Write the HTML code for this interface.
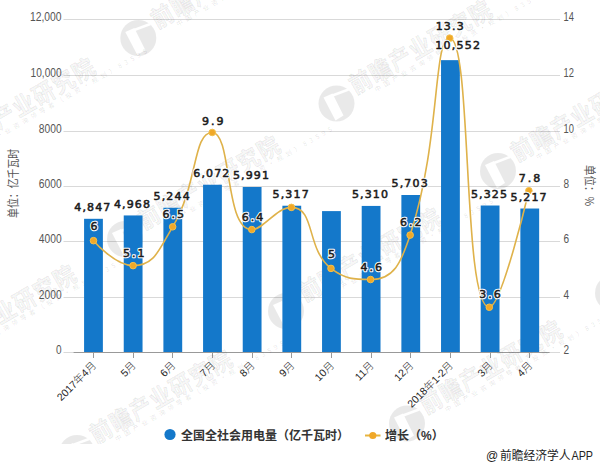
<!DOCTYPE html><html><head><meta charset="utf-8"><style>html,body{margin:0;padding:0;background:#fff;}body{width:600px;height:467px;overflow:hidden;position:relative;}svg{position:absolute;left:0;top:0;}</style></head><body>
<svg width="600" height="467" viewBox="0 0 600 467">
<defs><clipPath id="wc"><rect x="0" y="0" width="600" height="444"/></clipPath><mask id="lm" maskUnits="userSpaceOnUse" x="-20" y="-20" width="40" height="40"><rect x="-20" y="-20" width="40" height="40" fill="#fff"/><path d="M-13,-6 L-4,-10 L7,12 L-1,17 Z" fill="#000"/><path d="M-4,-8 L12,-14" fill="none" stroke="#000" stroke-width="2.5"/></mask></defs>
<line x1="63.5" y1="19.5" x2="560" y2="19.5" stroke="#d9d9d9" stroke-width="1"/>
<line x1="63.5" y1="75.5" x2="560" y2="75.5" stroke="#d9d9d9" stroke-width="1"/>
<line x1="63.5" y1="131.5" x2="560" y2="131.5" stroke="#d9d9d9" stroke-width="1"/>
<line x1="63.5" y1="186.5" x2="560" y2="186.5" stroke="#d9d9d9" stroke-width="1"/>
<line x1="63.5" y1="241.5" x2="560" y2="241.5" stroke="#d9d9d9" stroke-width="1"/>
<line x1="63.5" y1="297.5" x2="560" y2="297.5" stroke="#d9d9d9" stroke-width="1"/>
<line x1="63.5" y1="352.5" x2="560" y2="352.5" stroke="#d9d9d9" stroke-width="1"/>
<line x1="73.6" y1="352.5" x2="549.6" y2="352.5" stroke="#999" stroke-width="1"/>
<line x1="93.5" y1="352" x2="93.5" y2="358" stroke="#999" stroke-width="1"/>
<line x1="133.5" y1="352" x2="133.5" y2="358" stroke="#999" stroke-width="1"/>
<line x1="172.5" y1="352" x2="172.5" y2="358" stroke="#999" stroke-width="1"/>
<line x1="212.5" y1="352" x2="212.5" y2="358" stroke="#999" stroke-width="1"/>
<line x1="252.5" y1="352" x2="252.5" y2="358" stroke="#999" stroke-width="1"/>
<line x1="291.5" y1="352" x2="291.5" y2="358" stroke="#999" stroke-width="1"/>
<line x1="331.5" y1="352" x2="331.5" y2="358" stroke="#999" stroke-width="1"/>
<line x1="371.5" y1="352" x2="371.5" y2="358" stroke="#999" stroke-width="1"/>
<line x1="410.5" y1="352" x2="410.5" y2="358" stroke="#999" stroke-width="1"/>
<line x1="450.5" y1="352" x2="450.5" y2="358" stroke="#999" stroke-width="1"/>
<line x1="490.5" y1="352" x2="490.5" y2="358" stroke="#999" stroke-width="1"/>
<line x1="529.5" y1="352" x2="529.5" y2="358" stroke="#999" stroke-width="1"/>
<g clip-path="url(#wc)">
<g transform="translate(138.3,38)">
<circle r="18" fill="#000" fill-opacity="0.088" mask="url(#lm)"/>
<g transform="rotate(-30)">
<text transform="scale(0.9,1)" x="23" y="1.9" font-family="Noto Sans CJK SC, sans-serif" font-size="24" font-weight="700" letter-spacing="1.56" fill="#000" fill-opacity="0.035" stroke="#000" stroke-opacity="0.1" stroke-width="0.8">前瞻产业研究院</text>
<text x="40" y="10" font-family="Noto Sans CJK SC, sans-serif" font-size="6.5" letter-spacing="3.6" fill="#000" fill-opacity="0.12">中国产业咨询领导者（投资·规划）83595</text>
</g></g>
<g transform="translate(336.5,103.5)">
<circle r="18" fill="#000" fill-opacity="0.088" mask="url(#lm)"/>
<g transform="rotate(-30)">
<text transform="scale(0.9,1)" x="23" y="1.9" font-family="Noto Sans CJK SC, sans-serif" font-size="24" font-weight="700" letter-spacing="1.56" fill="#000" fill-opacity="0.035" stroke="#000" stroke-opacity="0.1" stroke-width="0.8">前瞻产业研究院</text>
<text x="40" y="10" font-family="Noto Sans CJK SC, sans-serif" font-size="6.5" letter-spacing="3.6" fill="#000" fill-opacity="0.12">中国产业咨询领导者（投资·规划）83595</text>
</g></g>
<g transform="translate(498,171)">
<circle r="18" fill="#000" fill-opacity="0.088" mask="url(#lm)"/>
<g transform="rotate(-30)">
<text transform="scale(0.9,1)" x="23" y="1.9" font-family="Noto Sans CJK SC, sans-serif" font-size="24" font-weight="700" letter-spacing="1.56" fill="#000" fill-opacity="0.035" stroke="#000" stroke-opacity="0.1" stroke-width="0.8">前瞻产业研究院</text>
<text x="40" y="10" font-family="Noto Sans CJK SC, sans-serif" font-size="6.5" letter-spacing="3.6" fill="#000" fill-opacity="0.12">中国产业咨询领导者（投资·规划）83595</text>
</g></g>
<g transform="translate(125,239)">
<circle r="18" fill="#000" fill-opacity="0.088" mask="url(#lm)"/>
<g transform="rotate(-30)">
<text transform="scale(0.9,1)" x="23" y="1.9" font-family="Noto Sans CJK SC, sans-serif" font-size="24" font-weight="700" letter-spacing="1.56" fill="#000" fill-opacity="0.035" stroke="#000" stroke-opacity="0.1" stroke-width="0.8">前瞻产业研究院</text>
<text x="40" y="10" font-family="Noto Sans CJK SC, sans-serif" font-size="6.5" letter-spacing="3.6" fill="#000" fill-opacity="0.12">中国产业咨询领导者（投资·规划）83595</text>
</g></g>
<g transform="translate(286,311)">
<circle r="18" fill="#000" fill-opacity="0.088" mask="url(#lm)"/>
<g transform="rotate(-30)">
<text transform="scale(0.9,1)" x="23" y="1.9" font-family="Noto Sans CJK SC, sans-serif" font-size="24" font-weight="700" letter-spacing="1.56" fill="#000" fill-opacity="0.035" stroke="#000" stroke-opacity="0.1" stroke-width="0.8">前瞻产业研究院</text>
<text x="40" y="10" font-family="Noto Sans CJK SC, sans-serif" font-size="6.5" letter-spacing="3.6" fill="#000" fill-opacity="0.12">中国产业咨询领导者（投资·规划）83595</text>
</g></g>
<g transform="translate(77,453)">
<circle r="18" fill="#000" fill-opacity="0.088" mask="url(#lm)"/>
<g transform="rotate(-30)">
<text transform="scale(0.9,1)" x="23" y="1.9" font-family="Noto Sans CJK SC, sans-serif" font-size="24" font-weight="700" letter-spacing="1.56" fill="#000" fill-opacity="0.035" stroke="#000" stroke-opacity="0.1" stroke-width="0.8">前瞻产业研究院</text>
<text x="40" y="10" font-family="Noto Sans CJK SC, sans-serif" font-size="6.5" letter-spacing="3.6" fill="#000" fill-opacity="0.12">中国产业咨询领导者（投资·规划）83595</text>
</g></g>
<g transform="translate(407,423.5)">
<circle r="18" fill="#000" fill-opacity="0.088" mask="url(#lm)"/>
<g transform="rotate(-30)">
<text transform="scale(0.9,1)" x="23" y="1.9" font-family="Noto Sans CJK SC, sans-serif" font-size="24" font-weight="700" letter-spacing="1.56" fill="#000" fill-opacity="0.035" stroke="#000" stroke-opacity="0.1" stroke-width="0.8">前瞻产业研究院</text>
<text x="40" y="10" font-family="Noto Sans CJK SC, sans-serif" font-size="6.5" letter-spacing="3.6" fill="#000" fill-opacity="0.12">中国产业咨询领导者（投资·规划）83595</text>
</g></g>
<g transform="translate(-60,161)">
<circle r="18" fill="#000" fill-opacity="0.088" mask="url(#lm)"/>
<g transform="rotate(-30)">
<text transform="scale(0.9,1)" x="23" y="1.9" font-family="Noto Sans CJK SC, sans-serif" font-size="24" font-weight="700" letter-spacing="1.56" fill="#000" fill-opacity="0.035" stroke="#000" stroke-opacity="0.1" stroke-width="0.8">前瞻产业研究院</text>
<text x="40" y="10" font-family="Noto Sans CJK SC, sans-serif" font-size="6.5" letter-spacing="3.6" fill="#000" fill-opacity="0.12">中国产业咨询领导者（投资·规划）83595</text>
</g></g>
<g transform="translate(-79,368)">
<circle r="18" fill="#000" fill-opacity="0.088" mask="url(#lm)"/>
<g transform="rotate(-30)">
<text transform="scale(0.9,1)" x="23" y="1.9" font-family="Noto Sans CJK SC, sans-serif" font-size="24" font-weight="700" letter-spacing="1.56" fill="#000" fill-opacity="0.035" stroke="#000" stroke-opacity="0.1" stroke-width="0.8">前瞻产业研究院</text>
<text x="40" y="10" font-family="Noto Sans CJK SC, sans-serif" font-size="6.5" letter-spacing="3.6" fill="#000" fill-opacity="0.12">中国产业咨询领导者（投资·规划）83595</text>
</g></g>
<g transform="translate(613,293)">
<circle r="18" fill="#000" fill-opacity="0.088" mask="url(#lm)"/>
<g transform="rotate(-30)">
<text transform="scale(0.9,1)" x="23" y="1.9" font-family="Noto Sans CJK SC, sans-serif" font-size="24" font-weight="700" letter-spacing="1.56" fill="#000" fill-opacity="0.035" stroke="#000" stroke-opacity="0.1" stroke-width="0.8">前瞻产业研究院</text>
<text x="40" y="10" font-family="Noto Sans CJK SC, sans-serif" font-size="6.5" letter-spacing="3.6" fill="#000" fill-opacity="0.12">中国产业咨询领导者（投资·规划）83595</text>
</g></g>
</g>
<text x="61.6" y="354.1" text-anchor="end" font-family="Liberation Sans, Noto Sans CJK SC, sans-serif" font-size="12" fill="#555" textLength="5.6" lengthAdjust="spacingAndGlyphs">0</text>
<text x="61.6" y="299.1" text-anchor="end" font-family="Liberation Sans, Noto Sans CJK SC, sans-serif" font-size="12" fill="#555" textLength="22.8" lengthAdjust="spacingAndGlyphs">2000</text>
<text x="61.6" y="243.1" text-anchor="end" font-family="Liberation Sans, Noto Sans CJK SC, sans-serif" font-size="12" fill="#555" textLength="22.8" lengthAdjust="spacingAndGlyphs">4000</text>
<text x="61.6" y="188.1" text-anchor="end" font-family="Liberation Sans, Noto Sans CJK SC, sans-serif" font-size="12" fill="#555" textLength="22.8" lengthAdjust="spacingAndGlyphs">6000</text>
<text x="61.6" y="133.1" text-anchor="end" font-family="Liberation Sans, Noto Sans CJK SC, sans-serif" font-size="12" fill="#555" textLength="22.8" lengthAdjust="spacingAndGlyphs">8000</text>
<text x="61.6" y="77.1" text-anchor="end" font-family="Liberation Sans, Noto Sans CJK SC, sans-serif" font-size="12" fill="#555" textLength="31" lengthAdjust="spacingAndGlyphs">10,000</text>
<text x="61.6" y="21.1" text-anchor="end" font-family="Liberation Sans, Noto Sans CJK SC, sans-serif" font-size="12" fill="#555" textLength="31.6" lengthAdjust="spacingAndGlyphs">12,000</text>
<text x="563.5" y="354.1" font-family="Liberation Sans, Noto Sans CJK SC, sans-serif" font-size="12" fill="#555" textLength="5.6" lengthAdjust="spacingAndGlyphs">2</text>
<text x="563.5" y="299.1" font-family="Liberation Sans, Noto Sans CJK SC, sans-serif" font-size="12" fill="#555" textLength="5.6" lengthAdjust="spacingAndGlyphs">4</text>
<text x="563.5" y="243.1" font-family="Liberation Sans, Noto Sans CJK SC, sans-serif" font-size="12" fill="#555" textLength="5.6" lengthAdjust="spacingAndGlyphs">6</text>
<text x="563.5" y="188.1" font-family="Liberation Sans, Noto Sans CJK SC, sans-serif" font-size="12" fill="#555" textLength="5.6" lengthAdjust="spacingAndGlyphs">8</text>
<text x="563.5" y="133.1" font-family="Liberation Sans, Noto Sans CJK SC, sans-serif" font-size="12" fill="#555" textLength="10.4" lengthAdjust="spacingAndGlyphs">10</text>
<text x="563.5" y="77.1" font-family="Liberation Sans, Noto Sans CJK SC, sans-serif" font-size="12" fill="#555" textLength="10.4" lengthAdjust="spacingAndGlyphs">12</text>
<text x="563.5" y="21.1" font-family="Liberation Sans, Noto Sans CJK SC, sans-serif" font-size="12" fill="#555" textLength="10.4" lengthAdjust="spacingAndGlyphs">14</text>
<rect x="84.08" y="218.80" width="18.8" height="133.20" fill="#1478ca"/>
<rect x="123.74" y="215.44" width="18.8" height="136.56" fill="#1478ca"/>
<rect x="163.40" y="207.76" width="18.8" height="144.24" fill="#1478ca"/>
<rect x="203.07" y="184.74" width="18.8" height="167.26" fill="#1478ca"/>
<rect x="242.73" y="186.99" width="18.8" height="165.01" fill="#1478ca"/>
<rect x="282.39" y="205.73" width="18.8" height="146.27" fill="#1478ca"/>
<rect x="322.05" y="211.10" width="18.8" height="140.90" fill="#1478ca"/>
<rect x="361.71" y="205.93" width="18.8" height="146.07" fill="#1478ca"/>
<rect x="401.38" y="195.00" width="18.8" height="157.00" fill="#1478ca"/>
<rect x="441.04" y="60.15" width="18.8" height="291.85" fill="#1478ca"/>
<rect x="480.70" y="205.51" width="18.8" height="146.49" fill="#1478ca"/>
<rect x="520.36" y="208.52" width="18.8" height="143.48" fill="#1478ca"/>
<path d="M93.50,240.67 C93.50,240.67 114.97,265.64 133.08,265.64 C154.55,265.64 158.75,250.20 172.66,226.80 C198.33,183.63 192.69,132.48 212.24,132.48 C232.27,132.48 224.20,229.57 251.82,229.57 C263.78,229.57 276.19,207.38 291.40,207.38 C315.77,207.38 305.69,248.78 330.98,268.41 C345.27,279.51 354.38,279.51 370.56,279.51 C393.96,279.51 401.10,262.68 410.14,235.12 C440.68,142.01 432.90,38.17 449.72,38.17 C472.48,38.17 462.05,307.25 489.30,307.25 C501.63,307.25 528.88,190.74 528.88,190.74" fill="none" stroke="#dfb24a" stroke-width="1.6"/>
<circle cx="93.50" cy="240.67" r="3.3" fill="#f0a828" stroke="#f3c04c" stroke-width="1"/>
<circle cx="133.08" cy="265.64" r="3.3" fill="#f0a828" stroke="#f3c04c" stroke-width="1"/>
<circle cx="172.66" cy="226.80" r="3.3" fill="#f0a828" stroke="#f3c04c" stroke-width="1"/>
<circle cx="212.24" cy="132.48" r="3.3" fill="#f0a828" stroke="#f3c04c" stroke-width="1"/>
<circle cx="251.82" cy="229.57" r="3.3" fill="#f0a828" stroke="#f3c04c" stroke-width="1"/>
<circle cx="291.40" cy="207.38" r="3.3" fill="#f0a828" stroke="#f3c04c" stroke-width="1"/>
<circle cx="330.98" cy="268.41" r="3.3" fill="#f0a828" stroke="#f3c04c" stroke-width="1"/>
<circle cx="370.56" cy="279.51" r="3.3" fill="#f0a828" stroke="#f3c04c" stroke-width="1"/>
<circle cx="410.14" cy="235.12" r="3.3" fill="#f0a828" stroke="#f3c04c" stroke-width="1"/>
<circle cx="449.72" cy="38.17" r="3.3" fill="#f0a828" stroke="#f3c04c" stroke-width="1"/>
<circle cx="489.30" cy="307.25" r="3.3" fill="#f0a828" stroke="#f3c04c" stroke-width="1"/>
<circle cx="528.88" cy="190.74" r="3.3" fill="#f0a828" stroke="#f3c04c" stroke-width="1"/>
<text x="92.88" y="211.20" text-anchor="middle" font-family="DejaVu Sans, sans-serif" font-size="11" letter-spacing="1.15" fill="none" stroke="#fff" stroke-width="2.6" stroke-linejoin="round">4,847</text>
<text x="92.88" y="211.20" text-anchor="middle" font-family="DejaVu Sans, sans-serif" font-size="11" letter-spacing="1.15" fill="#1c1c1c" stroke="#1c1c1c" stroke-width="0.55">4,847</text>
<text x="132.54" y="207.84" text-anchor="middle" font-family="DejaVu Sans, sans-serif" font-size="11" letter-spacing="1.15" fill="none" stroke="#fff" stroke-width="2.6" stroke-linejoin="round">4,968</text>
<text x="132.54" y="207.84" text-anchor="middle" font-family="DejaVu Sans, sans-serif" font-size="11" letter-spacing="1.15" fill="#1c1c1c" stroke="#1c1c1c" stroke-width="0.55">4,968</text>
<text x="172.20" y="200.16" text-anchor="middle" font-family="DejaVu Sans, sans-serif" font-size="11" letter-spacing="1.15" fill="none" stroke="#fff" stroke-width="2.6" stroke-linejoin="round">5,244</text>
<text x="172.20" y="200.16" text-anchor="middle" font-family="DejaVu Sans, sans-serif" font-size="11" letter-spacing="1.15" fill="#1c1c1c" stroke="#1c1c1c" stroke-width="0.55">5,244</text>
<text x="211.87" y="177.14" text-anchor="middle" font-family="DejaVu Sans, sans-serif" font-size="11" letter-spacing="1.15" fill="none" stroke="#fff" stroke-width="2.6" stroke-linejoin="round">6,072</text>
<text x="211.87" y="177.14" text-anchor="middle" font-family="DejaVu Sans, sans-serif" font-size="11" letter-spacing="1.15" fill="#1c1c1c" stroke="#1c1c1c" stroke-width="0.55">6,072</text>
<text x="251.53" y="179.39" text-anchor="middle" font-family="DejaVu Sans, sans-serif" font-size="11" letter-spacing="1.15" fill="none" stroke="#fff" stroke-width="2.6" stroke-linejoin="round">5,991</text>
<text x="251.53" y="179.39" text-anchor="middle" font-family="DejaVu Sans, sans-serif" font-size="11" letter-spacing="1.15" fill="#1c1c1c" stroke="#1c1c1c" stroke-width="0.55">5,991</text>
<text x="291.19" y="198.13" text-anchor="middle" font-family="DejaVu Sans, sans-serif" font-size="11" letter-spacing="1.15" fill="none" stroke="#fff" stroke-width="2.6" stroke-linejoin="round">5,317</text>
<text x="291.19" y="198.13" text-anchor="middle" font-family="DejaVu Sans, sans-serif" font-size="11" letter-spacing="1.15" fill="#1c1c1c" stroke="#1c1c1c" stroke-width="0.55">5,317</text>
<text x="370.51" y="198.33" text-anchor="middle" font-family="DejaVu Sans, sans-serif" font-size="11" letter-spacing="1.15" fill="none" stroke="#fff" stroke-width="2.6" stroke-linejoin="round">5,310</text>
<text x="370.51" y="198.33" text-anchor="middle" font-family="DejaVu Sans, sans-serif" font-size="11" letter-spacing="1.15" fill="#1c1c1c" stroke="#1c1c1c" stroke-width="0.55">5,310</text>
<text x="410.18" y="187.40" text-anchor="middle" font-family="DejaVu Sans, sans-serif" font-size="11" letter-spacing="1.15" fill="none" stroke="#fff" stroke-width="2.6" stroke-linejoin="round">5,703</text>
<text x="410.18" y="187.40" text-anchor="middle" font-family="DejaVu Sans, sans-serif" font-size="11" letter-spacing="1.15" fill="#1c1c1c" stroke="#1c1c1c" stroke-width="0.55">5,703</text>
<text x="458.20" y="49.30" text-anchor="middle" font-family="DejaVu Sans, sans-serif" font-size="11" letter-spacing="1.25" fill="none" stroke="#fff" stroke-width="2.6" stroke-linejoin="round">10,552</text>
<text x="458.20" y="49.30" text-anchor="middle" font-family="DejaVu Sans, sans-serif" font-size="11" letter-spacing="1.25" fill="#1c1c1c" stroke="#1c1c1c" stroke-width="0.55">10,552</text>
<text x="489.50" y="197.91" text-anchor="middle" font-family="DejaVu Sans, sans-serif" font-size="11" letter-spacing="1.15" fill="none" stroke="#fff" stroke-width="2.6" stroke-linejoin="round">5,325</text>
<text x="489.50" y="197.91" text-anchor="middle" font-family="DejaVu Sans, sans-serif" font-size="11" letter-spacing="1.15" fill="#1c1c1c" stroke="#1c1c1c" stroke-width="0.55">5,325</text>
<text x="529.16" y="200.92" text-anchor="middle" font-family="DejaVu Sans, sans-serif" font-size="11" letter-spacing="1.15" fill="none" stroke="#fff" stroke-width="2.6" stroke-linejoin="round">5,217</text>
<text x="529.16" y="200.92" text-anchor="middle" font-family="DejaVu Sans, sans-serif" font-size="11" letter-spacing="1.15" fill="#1c1c1c" stroke="#1c1c1c" stroke-width="0.55">5,217</text>
<text x="95.10" y="229.80" text-anchor="middle" font-family="DejaVu Sans, sans-serif" font-size="11" letter-spacing="2.0" fill="none" stroke="#fff" stroke-width="2.6" stroke-linejoin="round">6</text>
<text x="95.10" y="229.80" text-anchor="middle" font-family="DejaVu Sans, sans-serif" font-size="11" letter-spacing="2.0" fill="#1c1c1c" stroke="#1c1c1c" stroke-width="0.55">6</text>
<text x="134.68" y="257.10" text-anchor="middle" font-family="DejaVu Sans, sans-serif" font-size="11" letter-spacing="2.0" fill="none" stroke="#fff" stroke-width="2.6" stroke-linejoin="round">5.1</text>
<text x="134.68" y="257.10" text-anchor="middle" font-family="DejaVu Sans, sans-serif" font-size="11" letter-spacing="2.0" fill="#1c1c1c" stroke="#1c1c1c" stroke-width="0.55">5.1</text>
<text x="174.26" y="217.60" text-anchor="middle" font-family="DejaVu Sans, sans-serif" font-size="11" letter-spacing="2.0" fill="none" stroke="#fff" stroke-width="2.6" stroke-linejoin="round">6.5</text>
<text x="174.26" y="217.60" text-anchor="middle" font-family="DejaVu Sans, sans-serif" font-size="11" letter-spacing="2.0" fill="#1c1c1c" stroke="#1c1c1c" stroke-width="0.55">6.5</text>
<text x="213.84" y="125.00" text-anchor="middle" font-family="DejaVu Sans, sans-serif" font-size="11" letter-spacing="2.0" fill="none" stroke="#fff" stroke-width="2.6" stroke-linejoin="round">9.9</text>
<text x="213.84" y="125.00" text-anchor="middle" font-family="DejaVu Sans, sans-serif" font-size="11" letter-spacing="2.0" fill="#1c1c1c" stroke="#1c1c1c" stroke-width="0.55">9.9</text>
<text x="253.42" y="221.30" text-anchor="middle" font-family="DejaVu Sans, sans-serif" font-size="11" letter-spacing="2.0" fill="none" stroke="#fff" stroke-width="2.6" stroke-linejoin="round">6.4</text>
<text x="253.42" y="221.30" text-anchor="middle" font-family="DejaVu Sans, sans-serif" font-size="11" letter-spacing="2.0" fill="#1c1c1c" stroke="#1c1c1c" stroke-width="0.55">6.4</text>
<text x="332.58" y="258.00" text-anchor="middle" font-family="DejaVu Sans, sans-serif" font-size="11" letter-spacing="2.0" fill="none" stroke="#fff" stroke-width="2.6" stroke-linejoin="round">5</text>
<text x="332.58" y="258.00" text-anchor="middle" font-family="DejaVu Sans, sans-serif" font-size="11" letter-spacing="2.0" fill="#1c1c1c" stroke="#1c1c1c" stroke-width="0.55">5</text>
<text x="372.16" y="271.40" text-anchor="middle" font-family="DejaVu Sans, sans-serif" font-size="11" letter-spacing="2.0" fill="none" stroke="#fff" stroke-width="2.6" stroke-linejoin="round">4.6</text>
<text x="372.16" y="271.40" text-anchor="middle" font-family="DejaVu Sans, sans-serif" font-size="11" letter-spacing="2.0" fill="#1c1c1c" stroke="#1c1c1c" stroke-width="0.55">4.6</text>
<text x="411.74" y="226.30" text-anchor="middle" font-family="DejaVu Sans, sans-serif" font-size="11" letter-spacing="2.0" fill="none" stroke="#fff" stroke-width="2.6" stroke-linejoin="round">6.2</text>
<text x="411.74" y="226.30" text-anchor="middle" font-family="DejaVu Sans, sans-serif" font-size="11" letter-spacing="2.0" fill="#1c1c1c" stroke="#1c1c1c" stroke-width="0.55">6.2</text>
<text x="450.32" y="29.60" text-anchor="middle" font-family="DejaVu Sans, sans-serif" font-size="11" letter-spacing="1.2" fill="none" stroke="#fff" stroke-width="2.6" stroke-linejoin="round">13.3</text>
<text x="450.32" y="29.60" text-anchor="middle" font-family="DejaVu Sans, sans-serif" font-size="11" letter-spacing="1.2" fill="#1c1c1c" stroke="#1c1c1c" stroke-width="0.55">13.3</text>
<text x="490.90" y="298.40" text-anchor="middle" font-family="DejaVu Sans, sans-serif" font-size="11" letter-spacing="2.0" fill="none" stroke="#fff" stroke-width="2.6" stroke-linejoin="round">3.6</text>
<text x="490.90" y="298.40" text-anchor="middle" font-family="DejaVu Sans, sans-serif" font-size="11" letter-spacing="2.0" fill="#1c1c1c" stroke="#1c1c1c" stroke-width="0.55">3.6</text>
<text x="530.48" y="181.70" text-anchor="middle" font-family="DejaVu Sans, sans-serif" font-size="11" letter-spacing="2.0" fill="none" stroke="#fff" stroke-width="2.6" stroke-linejoin="round">7.8</text>
<text x="530.48" y="181.70" text-anchor="middle" font-family="DejaVu Sans, sans-serif" font-size="11" letter-spacing="2.0" fill="#1c1c1c" stroke="#1c1c1c" stroke-width="0.55">7.8</text>
<text transform="translate(94.28,363.5) rotate(-45)" x="0" y="3.6" text-anchor="end" font-size="10.5" fill="#1e1e1e"><tspan font-family="Liberation Sans, sans-serif">2017</tspan><tspan font-family="Noto Sans CJK SC, sans-serif" font-weight="300">年</tspan><tspan font-family="Liberation Sans, sans-serif">4</tspan><tspan font-family="Noto Sans CJK SC, sans-serif" font-weight="300">月</tspan></text>
<text transform="translate(133.94,363.5) rotate(-45)" x="0" y="3.6" text-anchor="end" font-size="10.5" fill="#1e1e1e"><tspan font-family="Liberation Sans, sans-serif">5</tspan><tspan font-family="Noto Sans CJK SC, sans-serif" font-weight="300">月</tspan></text>
<text transform="translate(173.60,363.5) rotate(-45)" x="0" y="3.6" text-anchor="end" font-size="10.5" fill="#1e1e1e"><tspan font-family="Liberation Sans, sans-serif">6</tspan><tspan font-family="Noto Sans CJK SC, sans-serif" font-weight="300">月</tspan></text>
<text transform="translate(213.27,363.5) rotate(-45)" x="0" y="3.6" text-anchor="end" font-size="10.5" fill="#1e1e1e"><tspan font-family="Liberation Sans, sans-serif">7</tspan><tspan font-family="Noto Sans CJK SC, sans-serif" font-weight="300">月</tspan></text>
<text transform="translate(252.93,363.5) rotate(-45)" x="0" y="3.6" text-anchor="end" font-size="10.5" fill="#1e1e1e"><tspan font-family="Liberation Sans, sans-serif">8</tspan><tspan font-family="Noto Sans CJK SC, sans-serif" font-weight="300">月</tspan></text>
<text transform="translate(292.59,363.5) rotate(-45)" x="0" y="3.6" text-anchor="end" font-size="10.5" fill="#1e1e1e"><tspan font-family="Liberation Sans, sans-serif">9</tspan><tspan font-family="Noto Sans CJK SC, sans-serif" font-weight="300">月</tspan></text>
<text transform="translate(332.25,363.5) rotate(-45)" x="0" y="3.6" text-anchor="end" font-size="10.5" fill="#1e1e1e"><tspan font-family="Liberation Sans, sans-serif">10</tspan><tspan font-family="Noto Sans CJK SC, sans-serif" font-weight="300">月</tspan></text>
<text transform="translate(371.91,363.5) rotate(-45)" x="0" y="3.6" text-anchor="end" font-size="10.5" fill="#1e1e1e"><tspan font-family="Liberation Sans, sans-serif">11</tspan><tspan font-family="Noto Sans CJK SC, sans-serif" font-weight="300">月</tspan></text>
<text transform="translate(411.58,363.5) rotate(-45)" x="0" y="3.6" text-anchor="end" font-size="10.5" fill="#1e1e1e"><tspan font-family="Liberation Sans, sans-serif">12</tspan><tspan font-family="Noto Sans CJK SC, sans-serif" font-weight="300">月</tspan></text>
<text transform="translate(451.24,363.5) rotate(-45)" x="0" y="3.6" text-anchor="end" font-size="10.5" fill="#1e1e1e"><tspan font-family="Liberation Sans, sans-serif">2018</tspan><tspan font-family="Noto Sans CJK SC, sans-serif" font-weight="300">年</tspan><tspan font-family="Liberation Sans, sans-serif">1-2</tspan><tspan font-family="Noto Sans CJK SC, sans-serif" font-weight="300">月</tspan></text>
<text transform="translate(490.90,363.5) rotate(-45)" x="0" y="3.6" text-anchor="end" font-size="10.5" fill="#1e1e1e"><tspan font-family="Liberation Sans, sans-serif">3</tspan><tspan font-family="Noto Sans CJK SC, sans-serif" font-weight="300">月</tspan></text>
<text transform="translate(530.56,363.5) rotate(-45)" x="0" y="3.6" text-anchor="end" font-size="10.5" fill="#1e1e1e"><tspan font-family="Liberation Sans, sans-serif">4</tspan><tspan font-family="Noto Sans CJK SC, sans-serif" font-weight="300">月</tspan></text>
<text transform="translate(18.4,183.4) rotate(-90)" text-anchor="middle" font-family="Noto Sans CJK SC, sans-serif" font-size="12" fill="#555" textLength="69" lengthAdjust="spacingAndGlyphs">单位：亿千瓦时</text>
<text transform="translate(585.3,185.6) rotate(90)" text-anchor="middle" font-family="Noto Sans CJK SC, sans-serif" font-size="12" fill="#555" textLength="41" lengthAdjust="spacingAndGlyphs">单位：%</text>
<circle cx="170" cy="434.5" r="5.6" fill="#1478ca"/>
<text x="181" y="440" font-family="Liberation Sans, Noto Sans CJK SC, sans-serif" font-size="12" font-weight="bold" fill="#333">全国全社会用电量（亿千瓦时）</text>
<line x1="365" y1="435.5" x2="380.5" y2="435.5" stroke="#e6b540" stroke-width="2"/>
<circle cx="372.8" cy="435.5" r="3.6" fill="#f0a828"/>
<text x="385" y="440" font-family="Liberation Sans, Noto Sans CJK SC, sans-serif" font-size="12" font-weight="bold" fill="#333">增长（%）</text>
<text x="486" y="460" font-family="Liberation Sans, Noto Sans CJK SC, sans-serif" font-size="12" fill="#222">@</text>
<text x="500" y="460" font-family="Noto Sans CJK SC, sans-serif" font-size="12" fill="#222" textLength="70.5" lengthAdjust="spacingAndGlyphs">前瞻经济学人</text>
<text x="571.5" y="460" font-family="Liberation Sans, Noto Sans CJK SC, sans-serif" font-size="12" fill="#222" textLength="21.5" lengthAdjust="spacingAndGlyphs">APP</text>
</svg></body></html>
